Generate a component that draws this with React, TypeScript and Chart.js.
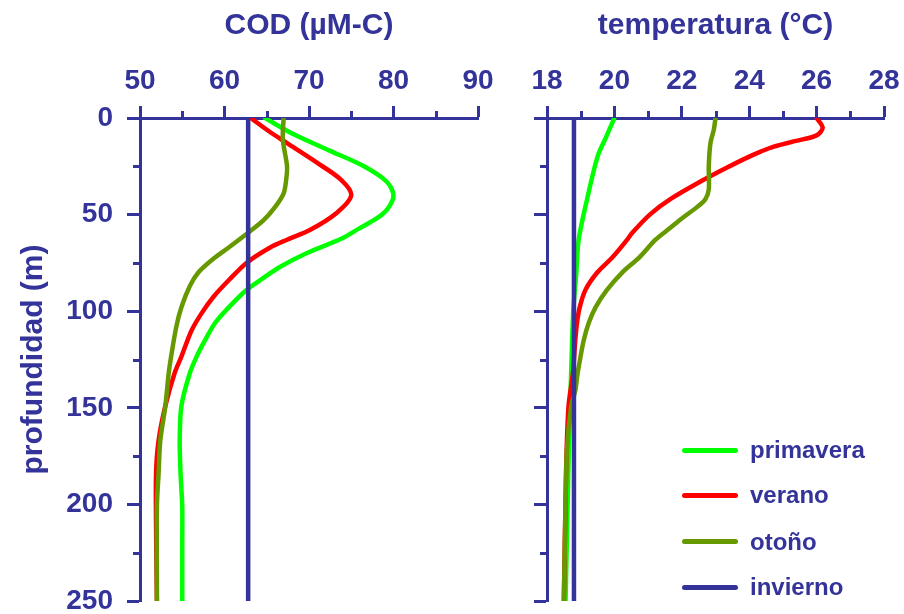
import React, { useEffect, useRef } from 'react';
import { Chart, registerables } from 'chart.js';

Chart.register(...registerables);

const NAVY = '#333399';
const GREEN = '#00ff00';
const RED = '#ff0000';
const OLIVE = '#669900';
const FONT = "'Liberation Sans', Arial, Helvetica, sans-serif";

const seasons = ['primavera', 'verano', 'otoño', 'invierno'];
const seasonColors = [GREEN, RED, OLIVE, NAVY];

// ---- COD (µM-C) vs depth ----
const codPrimaveraDepth = [0, 8, 17, 25, 33, 40, 47, 52, 57, 62.5, 70, 77, 84, 89, 98, 106, 115, 123.5, 132, 149, 167, 184, 201, 220, 250];
const codPrimavera = [64.8, 68.0, 72.5, 76.5, 79.2, 80.0, 79.3, 78.0, 76.0, 73.8, 69.7, 66.6, 64.2, 62.6, 60.5, 58.9, 57.7, 56.7, 55.9, 54.9, 54.7, 54.8, 55.0, 55.0, 55.0];

const codVeranoDepth = [0, 7, 13, 23, 32, 40, 49, 58, 63, 67, 75, 84, 92.5, 101, 110, 123.5, 132, 149, 167, 184, 210, 250];
const codVerano = [63.1, 65.3, 67.4, 70.9, 73.8, 75.0, 73.3, 70.1, 67.4, 65.4, 62.6, 60.5, 58.7, 57.3, 56.1, 54.9, 54.1, 53.0, 52.2, 51.9, 51.9, 52.0];

const codOtonoDepth = [0, 11, 25, 32, 39, 46, 53, 60, 67, 73.5, 80, 87, 98, 108, 123, 132, 149, 167, 184, 201, 250];
const codOtono = [67.0, 66.9, 67.4, 67.3, 67.0, 66.0, 64.6, 62.6, 60.5, 58.5, 56.9, 55.9, 54.9, 54.3, 53.7, 53.4, 53.0, 52.4, 52.2, 52.0, 52.0];

const codInviernoDepth = [0, 250];
const codInvierno = [62.8, 62.8];

// ---- temperatura (°C) vs depth ----
const tempPrimaveraDepth = [0, 10, 20, 42, 63, 80, 100, 130, 170, 210, 250];
const tempPrimavera = [20.0, 19.75, 19.5, 19.19, 18.94, 18.87, 18.78, 18.72, 18.65, 18.6, 18.55];

const tempVeranoDepth = [0, 5, 9, 12, 14.8, 17.4, 20, 26, 32, 42, 50, 60, 63, 72, 80, 89, 98, 106, 115, 132, 149, 180, 250];
const tempVerano = [26.0, 26.18, 26.0, 25.35, 24.73, 24.34, 24.0, 23.3, 22.65, 21.66, 21.05, 20.5, 20.38, 19.95, 19.49, 19.14, 18.97, 18.89, 18.84, 18.77, 18.64, 18.57, 18.5];

const tempOtonoDepth = [0, 6, 13, 25, 37, 42, 46, 52, 57, 63, 72, 80, 89, 98, 106, 115, 124, 132, 141, 149, 172, 210, 250];
const tempOtono = [23.0, 22.95, 22.85, 22.8, 22.8, 22.7, 22.46, 22.0, 21.65, 21.22, 20.75, 20.23, 19.78, 19.44, 19.24, 19.09, 18.99, 18.91, 18.84, 18.72, 18.59, 18.54, 18.5];

const tempInviernoDepth = [0, 250];
const tempInvierno = [18.8, 18.8];

// ---- axis ticks ----
const codTicks = [50, 60, 70, 80, 90];
const tempTicks = [18, 20, 22, 24, 26, 28];
const depthTicks = [0, 50, 100, 150, 200, 250];

const toPoints = (xs: number[], ds: number[]) => xs.map((x, i) => ({ x, y: ds[i] }));

const minorTicksPlugin = {
  id: 'minorTicks',
  afterDraw(chart: any) {
    const ctx = chart.ctx;
    ctx.save();
    ctx.strokeStyle = NAVY;
    ctx.lineWidth = 3;
    const xs = chart.scales.x;
    const ys = chart.scales.y;
    const len = 7;
    for (let i = 0; i < xs.ticks.length - 1; i++) {
      const v = (xs.ticks[i].value + xs.ticks[i + 1].value) / 2;
      const px = Math.round(xs.getPixelForValue(v)) + 0.5;
      ctx.beginPath();
      ctx.moveTo(px, xs.bottom);
      ctx.lineTo(px, xs.bottom - len);
      ctx.stroke();
    }
    for (let i = 0; i < ys.ticks.length - 1; i++) {
      const v = (ys.ticks[i].value + ys.ticks[i + 1].value) / 2;
      const py = Math.round(ys.getPixelForValue(v)) + 0.5;
      ctx.beginPath();
      ctx.moveTo(ys.right, py);
      ctx.lineTo(ys.right - len, py);
      ctx.stroke();
    }
    ctx.restore();
  },
};

function makeDatasets(series: { x: number[]; d: number[] }[]) {
  return series.map((s, i) => ({
    label: seasons[i],
    data: toPoints(s.x, s.d),
    borderColor: seasonColors[i],
    backgroundColor: seasonColors[i],
    borderWidth: 4.5,
    borderCapStyle: 'round',
    borderJoinStyle: 'round',
    pointRadius: 0,
    showLine: true,
    tension: 0.3,
    fill: false,
    order: 3 - i,
  }));
}

function makeOptions(opts: {
  xMin: number; xMax: number; xTicks: number[]; xTitle: string;
  yWidth: number; yLabels: boolean; padRight: number;
}) {
  return {
    animation: false,
    responsive: false,
    maintainAspectRatio: false,
    layout: { padding: { left: 0, right: opts.padRight, top: 0, bottom: 13 } },
    plugins: { legend: { display: false }, tooltip: { enabled: false } },
    scales: {
      x: {
        type: 'linear',
        position: 'top',
        min: opts.xMin,
        max: opts.xMax,
        afterBuildTicks: (s: any) => { s.ticks = opts.xTicks.map((v) => ({ value: v })); },
        afterFit: (s: any) => { s.height = 118; s.paddingLeft = 0; s.paddingRight = 0; },
        border: { display: true, color: NAVY, width: 3 },
        grid: { drawOnChartArea: false, drawTicks: true, tickLength: 12, tickColor: NAVY, tickWidth: 3 },
        ticks: { color: NAVY, font: { family: FONT, size: 28, weight: 'bold' }, padding: 8, maxRotation: 0, autoSkip: false },
        title: { display: true, text: opts.xTitle, color: NAVY, font: { family: FONT, size: 30, weight: 'bold' }, padding: { top: 8, bottom: 0 } },
      },
      y: {
        type: 'linear',
        position: 'left',
        reverse: true,
        min: 0,
        max: 250,
        afterBuildTicks: (s: any) => { s.ticks = depthTicks.map((v) => ({ value: v })); },
        afterFit: (s: any) => { s.width = opts.yWidth; s.paddingTop = 0; s.paddingBottom = 0; },
        border: { display: true, color: NAVY, width: 3 },
        grid: { drawOnChartArea: false, drawTicks: true, tickLength: 13, tickColor: NAVY, tickWidth: 3 },
        ticks: { display: opts.yLabels, color: NAVY, font: { family: FONT, size: 28, weight: 'bold' }, padding: 14, autoSkip: false },
        title: { display: opts.yLabels, text: 'profundidad (m)', color: NAVY, font: { family: FONT, size: 30, weight: 'bold' }, padding: { top: 16, bottom: 0 } },
      },
    },
  } as any;
}

export default function App() {
  const leftRef = useRef<HTMLCanvasElement>(null);
  const rightRef = useRef<HTMLCanvasElement>(null);

  useEffect(() => {
    const left = new Chart(leftRef.current as HTMLCanvasElement, {
      type: 'scatter',
      data: {
        datasets: makeDatasets([
          { x: codPrimavera, d: codPrimaveraDepth },
          { x: codVerano, d: codVeranoDepth },
          { x: codOtono, d: codOtonoDepth },
          { x: codInvierno, d: codInviernoDepth },
        ]),
      },
      options: makeOptions({ xMin: 50, xMax: 90, xTicks: codTicks, xTitle: 'COD (µM-C)', yWidth: 140, yLabels: true, padRight: 32 }),
      plugins: [minorTicksPlugin],
    } as any);
    const right = new Chart(rightRef.current as HTMLCanvasElement, {
      type: 'scatter',
      data: {
        datasets: makeDatasets([
          { x: tempPrimavera, d: tempPrimaveraDepth },
          { x: tempVerano, d: tempVeranoDepth },
          { x: tempOtono, d: tempOtonoDepth },
          { x: tempInvierno, d: tempInviernoDepth },
        ]),
      },
      options: makeOptions({ xMin: 18, xMax: 28, xTicks: tempTicks, xTitle: 'temperatura (°C)', yWidth: 37, yLabels: false, padRight: 20 }),
      plugins: [minorTicksPlugin],
    } as any);
    return () => { left.destroy(); right.destroy(); };
  }, []);

  const legendTops = [450, 495, 541.5, 587];

  return (
    <div style={{ position: 'absolute', left: 0, top: 0, width: 904, height: 614, background: '#fff', overflow: 'hidden' }}>
      <canvas ref={leftRef} width={510} height={614} style={{ position: 'absolute', left: 0, top: 0, width: 510, height: 614, display: 'block' }} />
      <canvas ref={rightRef} width={394} height={614} style={{ position: 'absolute', left: 510, top: 0, width: 394, height: 614, display: 'block' }} />
      {seasons.map((s, i) => (
        <div key={s} style={{ position: 'absolute', left: 682, top: legendTops[i] - 15, height: 30, display: 'flex', alignItems: 'center' }}>
          <div style={{ width: 56, height: 5, borderRadius: 3, background: seasonColors[i] }} />
          <span style={{ marginLeft: 12, fontFamily: FONT, fontWeight: 'bold', fontSize: 24, color: NAVY, lineHeight: '30px', whiteSpace: 'nowrap' }}>{s}</span>
        </div>
      ))}
    </div>
  );
}
